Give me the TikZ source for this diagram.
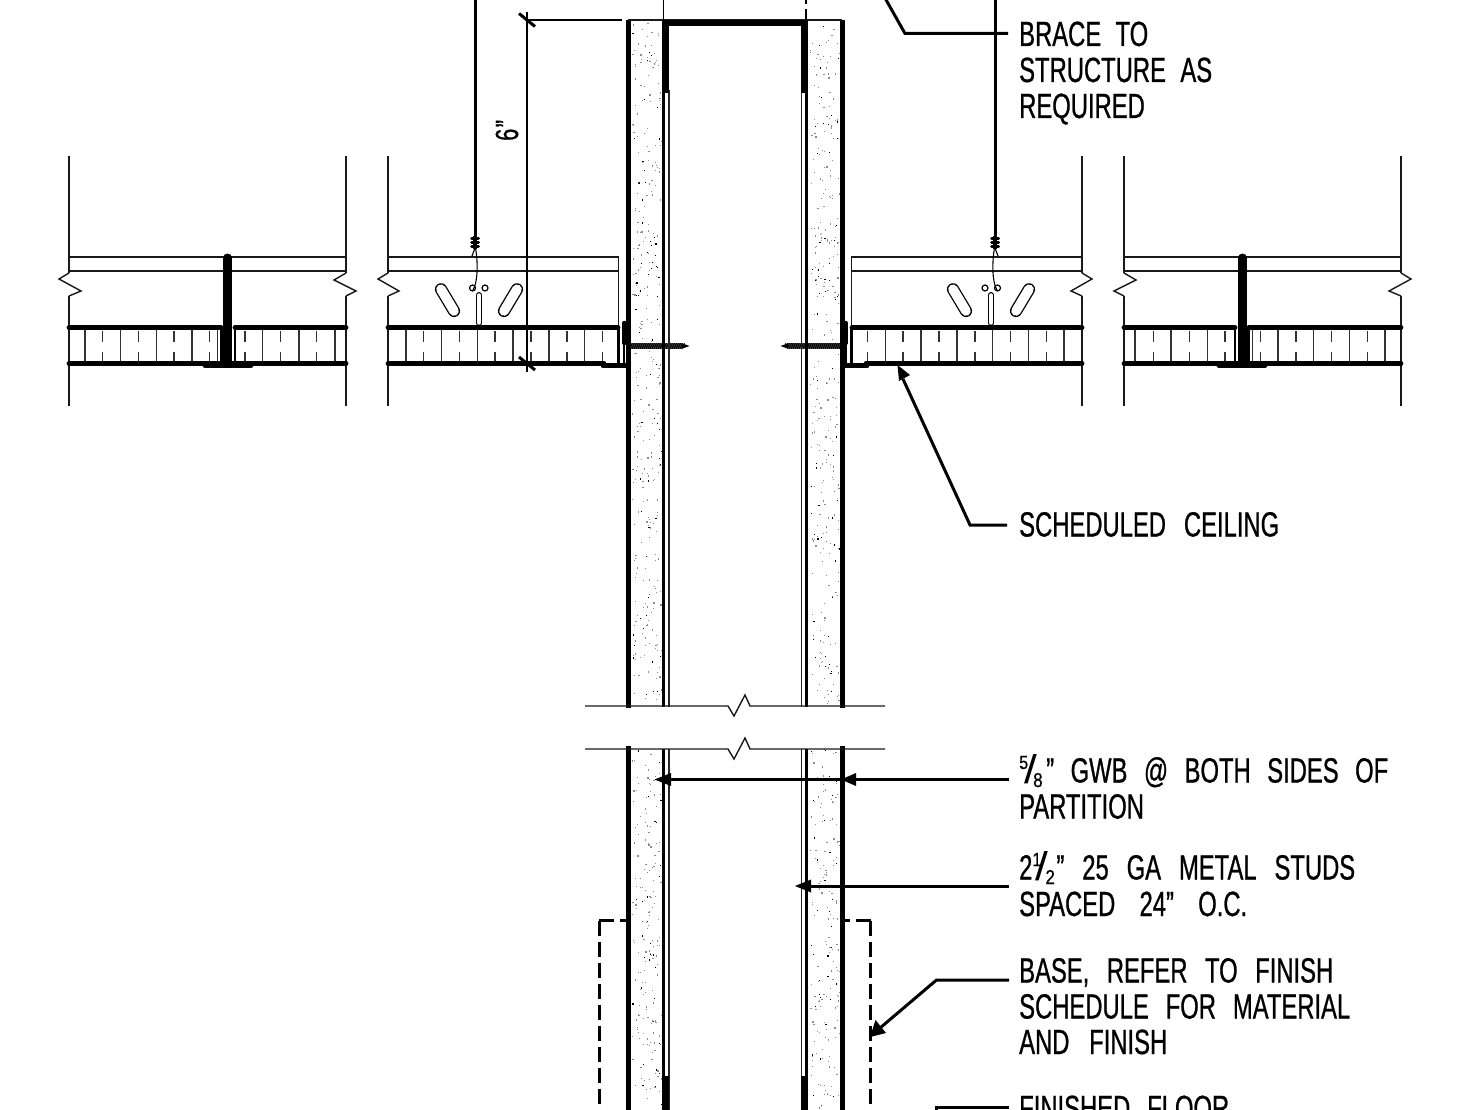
\documentclass[tikz,border=0pt]{standalone}
\usepackage{fontspec}
\setmainfont[FakeStretch=0.68,FakeBold=0.7,WordSpace=2]{Liberation Sans}
\newfontfamily\fracdigits[FakeStretch=0.85,FakeBold=0.5]{Liberation Sans}
\newfontfamily\fracslash[FakeStretch=1.15]{Liberation Sans}
\begin{document}
\begin{tikzpicture}[x=1pt,y=-1pt,
  thin line/.style={line width=1.4pt,black!90},
  tile line/.style={line width=1.4pt,black!80},
  tile face/.style={line width=4.8pt,line cap=round},
  heavy/.style={line width=5pt,line cap=round},
  stud line/.style={line width=3pt},
  leader/.style={line width=3pt},
  base dash/.style={line width=2.6pt,dash pattern=on 15pt off 6pt},
  slot/.style={double=white,double distance=9.6pt,line width=1.3pt,line cap=round},
  callout/.style={anchor=base west,inner sep=0pt,font=\fontsize{35}{36}\selectfont}]
\newcommand{\tl}[4]{\node[callout] (#1) at (1019,#2) {\makebox[#3pt][s]{#4}};}
% numerator, denominator, total width, numerator kern, slash kern, denominator kern
\newcommand{\fracnum}[6]{\makebox[#3pt][l]{%
  \rlap{\kern#4pt\raisebox{13.5pt}{\fontsize{19}{19}\fracdigits #1}}%
  \rlap{\kern#5pt\raisebox{-1pt}{\fontsize{40}{40}\fracslash /}}%
  \rlap{\kern#6pt\raisebox{-4.5pt}{\fontsize{20}{20}\fracdigits #2}}}}
\newcommand{\edgeV}[1]{\draw[thin line] (#1,156) -- (#1,273); \draw[thin line] (#1,296) -- (#1,406);}
\newcommand{\tileStubs}[1]{\draw[tile line] (#1,331) -- (#1,342) (#1,352) -- (#1,362);}
\newcommand{\tileFull}[1]{\draw[tile line] (#1,329) -- (#1,362);}
\newcommand{\ceilingSide}{%
  % outer panel
  \edgeV{69}\edgeV{346}
  \draw[thin line] (69,273) -- (59,279) -- (81,291) -- (69,296);
  \draw[thin line] (346,273) -- (334,280) -- (356,291) -- (346,296);
  \draw[thin line] (69,257) -- (346,257) (69,271) -- (346,271);
  \foreach \q in {85,120.5,156.3,192,217.7,262.7,299,335} {\tileFull{\q}}
  \foreach \q in {102.5,138.3,174,209.7,245,280.7,316.7} {\tileStubs{\q}}
  \draw[tile face] (69,327.5) -- (221,327.5);
  \draw[tile face] (235,327.5) -- (346,327.5);
  \draw[tile face] (69,363.5) -- (346,363.5);
  \draw[line width=9pt,line cap=round] (227.5,258) -- (227.5,362);
  \draw[line width=2.6pt] (221.7,327) -- (221.7,365) (235,327) -- (235,365);
  \draw[heavy] (205,365.3) -- (251,365.3);
  % inner panel
  \edgeV{388}
  \draw[thin line] (388,273) -- (378,279) -- (399,291) -- (388,296);
  \draw[thin line] (388,257) -- (618.5,257) -- (618.5,327) (388,271) -- (618.5,271);
  \foreach \q in {406,441.7,477.3,513,549,584.7} {\tileFull{\q}}
  \foreach \q in {423.7,459.5,495,531,567,602.5} {\tileStubs{\q}}
  \draw[tile face] (388,327.5) -- (618,327.5);
  \draw[tile face] (388,363.5) -- (604,363.5);
  \draw[line width=3.5pt] (618.5,326) -- (618.5,365);
  \draw[heavy] (603,365.5) -- (626,365.5);
  \draw[line width=4.5pt,line cap=round] (624.3,323) -- (624.3,343);
  \draw[line width=2.6pt] (624,343) -- (624,365);
  % wire, clip and slots
  \draw[line width=3pt] (475,-2) -- (475,237);
  \foreach \q in {238,242,246} {\draw[line width=3pt,line cap=round] (471.5,\q) -- (478.5,\q);}
  \draw[line width=3.5pt] (475,236) -- (475,249);
  \draw[line width=1.1pt] (475,248) -- (472,256);
  \draw[line width=1.1pt] (475.5,248) .. controls (478,262) and (478,282) .. (473,290);
  \draw[line width=1.2pt] (472.5,288) circle[radius=3] (485,288) circle[radius=3];
  \draw[slot,double distance=3.4pt] (479,295) -- (479,323);
  \draw[slot] (441,289.3) -- (454,311);
  \draw[slot] (517,289.3) -- (504,311);
  % screw
  \fill[black!70] (627,343.3) rectangle (682,348.7);
  \foreach \q in {628,630,...,682} {\draw[line width=1pt] (\q,348.7) -- (\q+2.5,343.3);}
  \fill (682,343.3) -- (689.5,346) -- (682,348.7) -- cycle;
}
\newcommand{\wallSide}{%
  \draw[line width=5pt] (628,20) -- (628,708);
  \draw[line width=5pt] (628,746) -- (628,1112);
  \draw[stud line] (663.3,20) -- (663.3,707) (663.3,749) -- (663.3,1110);
  \draw[line width=1.4pt,black!85] (668.8,90) -- (668.8,707) (668.8,749) -- (668.8,1110);
  \fill (661.8,21) rectangle (669.3,93.5);
  \fill (661.8,1076) rectangle (669.3,1112);
}
\clip (0,0) rectangle (1480,1110);
\fill[white] (0,0) rectangle (1480,1110);

% stipple of the gypsum boards
\pgfmathsetseed{4217}
\foreach \n in {1,...,1050}{%
  \pgfmathsetmacro{\px}{632+rnd*29+(rnd>.5)*178}
  \pgfmathsetmacro{\py}{24+rnd*1086}
  \pgfmathsetmacro{\ps}{rnd}
  \pgfmathparse{(\py>704 && \py<750) ? 0 : 1}
  \ifnum\pgfmathresult=1
    \pgfmathparse{\ps>.8 ? "black" : "black!45"}
    \edef\dotcol{\pgfmathresult}
    \fill[\dotcol] (\px,\py) rectangle ++(1.2,-1.2);
  \fi
}

\begin{scope}\ceilingSide\wallSide\end{scope}
\begin{scope}[shift={(1470,0)},xscale=-1]\ceilingSide\wallSide\end{scope}

% head of partition
\draw[thin line] (628,20) -- (842,20);
\draw[line width=6pt] (662,23) -- (808,23);
\draw[line width=1.8pt] (663.5,-2) -- (663.5,20);
\draw[line width=1.8pt] (806,0) -- (806,4) (806,9) -- (806,20);

% dimension
\coordinate (dimTop) at (527,12);
\coordinate (dimBot) at (527,372);
\coordinate (extA) at (527,20);
\coordinate (extB) at (622,20);
\draw[line width=2.8pt] (dimTop) -- (dimBot);
\draw[line width=2pt] (extA) -- (extB);
\draw[line width=3pt] (519,13.5) -- (535,26.5);
\draw[line width=3pt] (519,357) -- (535,370);
\node[inner sep=0pt,rotate=90,anchor=base west,font=\fontsize{32}{32}\selectfont] (dimText) at (518,141) {6\kern1.5pt”};

% sections breaks
\draw[thin line] (585,706) -- (728,706) -- (734,716) -- (745,695) -- (750,706) -- (885,706);
\draw[thin line] (585,749) -- (728,749) -- (734,759) -- (745,738) -- (750,749) -- (885,749);

% base (dashed)
\draw[base dash] (599.3,920.5) -- (626,920.5);
\draw[base dash] (599.3,920.5) -- (599.3,1112);
\draw[base dash] (870.5,920.5) -- (844,920.5);
\draw[base dash] (870.5,920.5) -- (870.5,1112);

% text
\tl{t1}{46}{129}{BRACE TO}
\tl{t2}{82}{193}{STRUCTURE AS}
\tl{t3}{118}{124}{REQUIRED}
\tl{t4}{536.5}{260}{SCHEDULED CEILING}
\tl{t5}{782.5}{369}{\fracnum{5}{8}{27}{0}{5}{14}” GWB @ BOTH SIDES OF}
\tl{t6}{818.5}{122}{PARTITION}
\tl{t7}{879.5}{336}{2\fracnum{1}{2}{24}{0}{3}{13}” 25 GA METAL STUDS}
\tl{t8}{916}{228}{SPACED 24” O.C.}
\tl{t9}{982.5}{314}{BASE, REFER TO FINISH}
\tl{t10}{1018.5}{331}{SCHEDULE FOR MATERIAL}
\tl{t11}{1054}{148}{AND FINISH}
\tl{t12}{1120}{210}{FINISHED FLOOR}

% leaders
\newcommand{\headW}[3]{\fill (#1,#2) -- (#3,#2-6.5) -- (#3,#2+6.5) -- cycle;}
\coordinate (braceEnd) at (1008,33.5);
\draw[leader] (885,-2) -- (905,33.5) -- (braceEnd);
\coordinate (schedEnd) at (1007,525);
\coordinate (schedTip) at (897.5,365);
\draw[leader] (schedEnd) -- (970,525) -- (903,379);
\fill (schedTip) -- (910,375) -- (899,381) -- cycle;
\coordinate (gwbEnd) at (1009,779.5);
\draw[leader] (gwbEnd) -- (668,779.5);
\headW{841}{779.5}{856}
\headW{654.5}{779.5}{671}
\coordinate (studEnd) at (1009,886);
\draw[leader] (studEnd) -- (808,886);
\headW{795}{886}{811}
\coordinate (baseEnd) at (1009,980);
\draw[leader] (baseEnd) -- (936.5,980) -- (880,1028);
\fill (870,1037) -- (875.5,1020) -- (886,1033) -- cycle;
\coordinate (floorEnd) at (1009,1107);
\draw[leader] (floorEnd) -- (936.5,1107) -- (936.5,1112);
\end{tikzpicture}
\end{document}
